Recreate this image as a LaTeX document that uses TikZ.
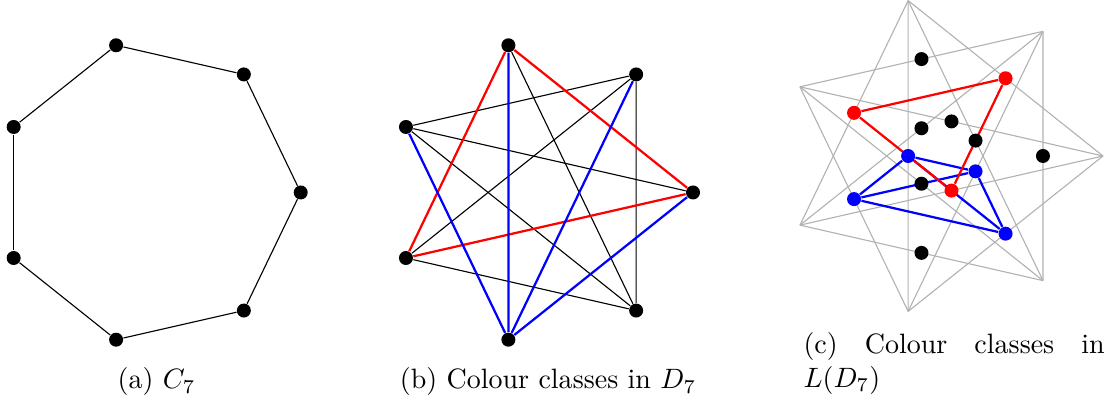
\documentclass[tikz,border=0pt]{standalone}
\usetikzlibrary{calc,backgrounds}
\tikzset{
	dot/.style={circle, fill=black, inner sep=0pt, minimum size=5pt},
	plain/.style={black, thin},
	faint/.style={gray!60, thin},
	redge/.style={red, thick},
	bedge/.style={blue, thick},
	caption/.style={inner sep=0pt}
}
\begin{document}
\begin{tikzpicture}[x=0.357pt, y=0.357pt]
	\useasboundingbox (0,0) rectangle (1107,400);
	% (a) the cycle
	\foreach \i in {0,...,6}{
			\node[dot] (a\i) at ($(149.7,207.5)+(\i*360/7:151)$) {};
		}
	\begin{scope}[on background layer]
		\foreach \i [evaluate=\i as \j using {int(mod(\i+1,7))}] in {0,...,6}{
				\draw[plain] (a\i) -- (a\j);
			}
	\end{scope}
	\node[caption, anchor=base] (capa) at (156.5, 11) {(a) \(C_7\)};
	% (b) its complement
	\foreach \i in {0,...,6}{
			\node[dot] (b\i) at ($(542,207.5)+(\i*360/7:151)$) {};
		}
	\begin{scope}[on background layer]
		\foreach \i/\j in {1/3, 0/3, 3/6, 1/4, 4/6, 2/6, 1/6}{
				\draw[plain] (b\i) -- (b\j);
			}
		\foreach \i/\j in {0/2, 2/4, 0/4}{
				\draw[redge] (b\i) -- (b\j);
			}
		\foreach \i/\j in {3/5, 2/5, 1/5, 0/5}{
				\draw[bedge] (b\i) -- (b\j);
			}
	\end{scope}
	\node[caption, anchor=base] (capb) at (548, 11) {(b) Colour classes in \(D_7\)};
	% (c) the line graph
	\foreach \i in {0,...,6}{
			\coordinate (c\i) at ($(943.6,244)+(\i*360/7:159.4)$);
		}
	\foreach \i/\j in {1/3, 0/3, 3/6, 1/4, 4/6, 2/6, 1/6}{
			\node[dot] (m\i\j) at ($(c\i)!.5!(c\j)$) {};
		}
	\foreach \i/\j in {0/2, 2/4, 0/4}{
			\node[dot, fill=red] (m\i\j) at ($(c\i)!.5!(c\j)$) {};
		}
	\foreach \i/\j in {3/5, 2/5, 1/5, 0/5}{
			\node[dot, fill=blue] (m\i\j) at ($(c\i)!.5!(c\j)$) {};
		}
	\begin{scope}[on background layer]
		\foreach \i/\j in {0/2, 1/3, 2/4, 3/5, 4/6, 0/5, 1/6, 0/3, 1/4, 2/5, 3/6, 0/4, 1/5, 2/6}{
				\draw[faint] (c\i) -- (c\j);
			}
		\foreach \p/\q in {m35/m25, m35/m15, m35/m05, m25/m15, m25/m05, m15/m05}{
				\draw[bedge] (\p) -- (\q);
			}
		\foreach \p/\q in {m02/m24, m24/m04, m02/m04}{
				\draw[redge] (\p) -- (\q);
			}
	\end{scope}
	\node[caption, anchor=base west, text width=107.5pt, align=justify] (capc) at (803, 46) {(c) Colour classes in \(L(D_7)\)};
\end{tikzpicture}
\end{document}
